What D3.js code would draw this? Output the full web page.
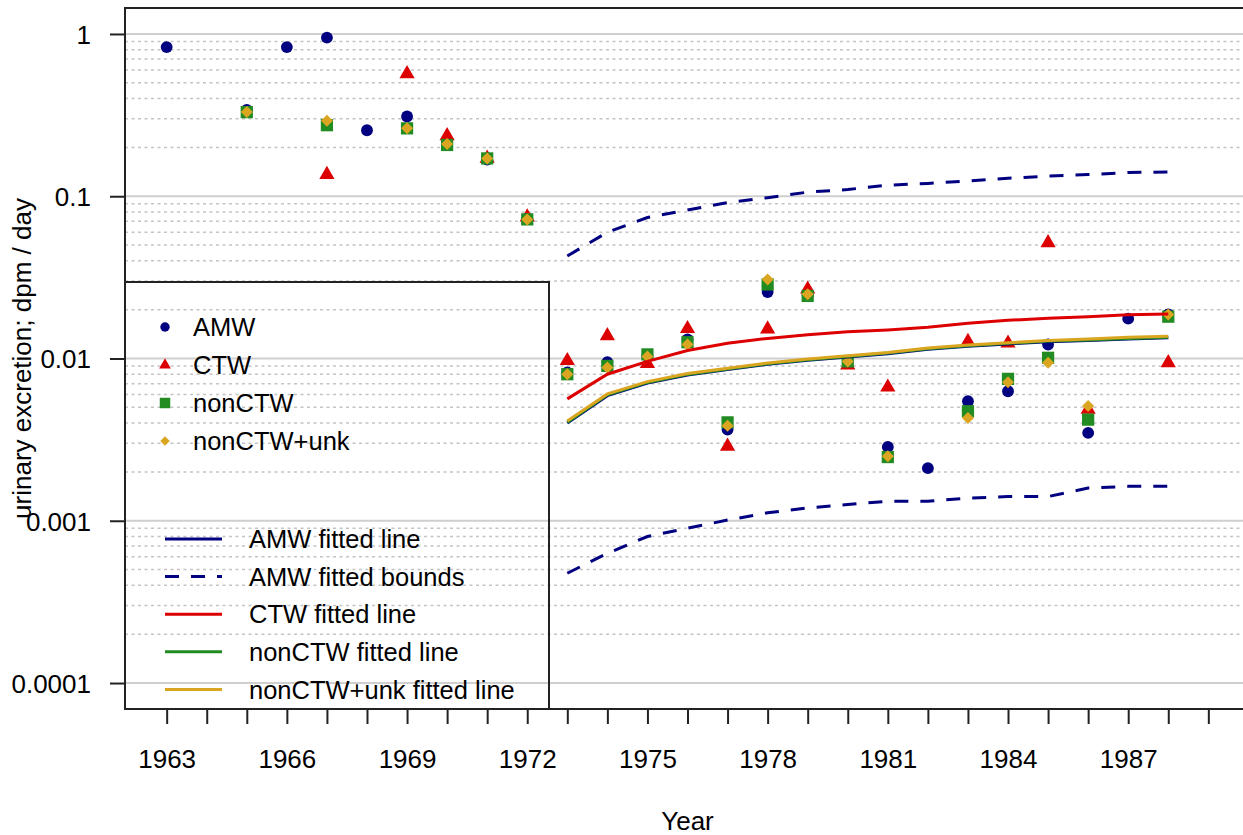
<!DOCTYPE html>
<html>
<head>
<meta charset="utf-8">
<script src="https://cdn.jsdelivr.net/npm/d3@7"></script>
<style>
  body { margin: 0; background: #fff; }
  svg { display: block; font-family: "Liberation Sans", Arial, sans-serif; }
</style>
</head>
<body>
<div id="chart"></div>
<script>
var width = 1243,
    height = 835;

// observed points, one value per year (null = no measurement)
var years = d3.range(1963, 1989);
var amw    = [0.83, null, 0.34, 0.83, 0.95, 0.255, 0.31, 0.21, 0.168, 0.073, 0.0082, 0.0095, 0.0104, 0.0131, 0.00365, 0.0257, 0.0245, 0.0095, 0.00285, 0.00211, 0.00545, 0.00628, 0.0122, 0.00348, 0.0176, 0.0187];
var ctw    = [null, null, null, null, 0.139, null, 0.58, 0.241, 0.175, 0.076, 0.0099, 0.0141, 0.0095, 0.0156, 0.00294, 0.0155, 0.0273, 0.0093, 0.0068, null, 0.0130, 0.0127, 0.0527, 0.00496, null, 0.0096];
var nonctw = [null, null, 0.33, null, 0.274, null, 0.262, 0.207, 0.171, 0.072, 0.0080, 0.0090, 0.0106, 0.0126, 0.00404, 0.0286, 0.0243, 0.0096, 0.00247, null, 0.00473, 0.00749, 0.0101, 0.0042, null, 0.0181];
var nonunk = [null, null, 0.33, null, 0.292, null, 0.262, 0.21, 0.171, 0.072, 0.0080, 0.0088, 0.0103, 0.0122, 0.00385, 0.0307, 0.0249, 0.0096, 0.0025, null, 0.0043, 0.00714, 0.0094, 0.0051, null, 0.0187];

// fitted curves
var fitYears  = d3.range(1973, 1989);
var amwFit    = [0.00400, 0.00590, 0.00705, 0.00790, 0.00855, 0.00920, 0.00975, 0.0102, 0.0107, 0.0114, 0.0119, 0.0123, 0.0127, 0.0129, 0.0132, 0.0134];
var amwUpper  = [0.0428, 0.060, 0.0739, 0.0823, 0.0914, 0.098, 0.106, 0.110, 0.117, 0.120, 0.124, 0.129, 0.133, 0.136, 0.140, 0.141];
var amwLower  = [0.000475, 0.00063, 0.0008, 0.0009, 0.00101, 0.00112, 0.0012, 0.00126, 0.00132, 0.00132, 0.00138, 0.00141, 0.00141, 0.00159, 0.00163, 0.00163];
var ctwFit    = [0.00564, 0.0080, 0.0096, 0.0112, 0.0124, 0.0133, 0.0140, 0.0146, 0.0150, 0.0156, 0.0165, 0.0172, 0.0177, 0.0181, 0.0186, 0.0188];
var nonctwFit = [0.00405, 0.00598, 0.00712, 0.00798, 0.00862, 0.00928, 0.00983, 0.0103, 0.0108, 0.0115, 0.0120, 0.0124, 0.0128, 0.0130, 0.0133, 0.0135];
var nonunkFit = [0.00412, 0.00605, 0.00720, 0.00808, 0.00872, 0.00938, 0.00993, 0.0104, 0.0109, 0.0116, 0.0121, 0.0125, 0.0129, 0.0132, 0.0135, 0.0137];

var xTicks = d3.range(1963, 1990);
var xLabels = [1963, 1966, 1969, 1972, 1975, 1978, 1981, 1984, 1987];
var yMajor = [1, 0.1, 0.01, 0.001, 0.0001];
var yLabels = ["1", "0.1", "0.01", "0.001", "0.0001"];

var navy = "#000080", red = "#dd0000", green = "#228b22", gold = "#daa520";

var pL = 125, pR = 1250, pT = 8, pB = 709;

var x = d3.scaleLinear().domain([1961.96, 1990.04]).range([pL, pR]);
var y = d3.scaleLog().domain([Math.pow(10, -4.16), Math.pow(10, 0.16)]).range([pB, pT]);

// filled diamond like R's pch 18 (equal width and height)
var rDiamond = {
  draw: function(ctx, size) {
    var r = Math.sqrt(size / 2);
    ctx.moveTo(0, -r);
    ctx.lineTo(r, 0);
    ctx.lineTo(0, r);
    ctx.lineTo(-r, 0);
    ctx.closePath();
  }
};

var svg = d3.select("#chart").append("svg")
    .attr("width", width)
    .attr("height", height);

// grid
var minor = [];
yMajor.forEach(function(d) {
  d3.range(2, 10).forEach(function(k) { if (d * k < 1.4) minor.push(d * k); });
});
svg.append("g").selectAll("line").data(minor).enter().append("line")
    .attr("x1", pL).attr("x2", pR)
    .attr("y1", function(d) { return y(d); }).attr("y2", function(d) { return y(d); })
    .attr("stroke", "#c4c4c4").attr("stroke-width", 1.5)
    .attr("stroke-dasharray", "3,3.5");
svg.append("g").selectAll("line").data(yMajor).enter().append("line")
    .attr("x1", pL).attr("x2", pR)
    .attr("y1", function(d) { return y(d); }).attr("y2", function(d) { return y(d); })
    .attr("stroke", "#cfcfcf").attr("stroke-width", 2);

// points
var shapes = [
  { vals: amw,    color: navy,  sym: d3.symbolCircle,   size: 110, lsize: 70 },
  { vals: ctw,    color: red,   sym: d3.symbolTriangle, size: 100, lsize: 60 },
  { vals: nonctw, color: green, sym: d3.symbolSquare,   size: 150, lsize: 110 },
  { vals: nonunk, color: gold,  sym: rDiamond,          size: 72,  lsize: 45 }
];
shapes.forEach(function(s) {
  var pts = years.map(function(yr, i) { return { year: yr, v: s.vals[i] }; })
      .filter(function(d) { return d.v != null; });
  svg.append("g").selectAll("path").data(pts).enter().append("path")
      .attr("d", d3.symbol().type(s.sym).size(s.size))
      .attr("transform", function(d) {
        var dy = s.sym === d3.symbolTriangle ? 1.5 : 0;
        return "translate(" + x(d.year) + "," + (y(d.v) + dy) + ")";
      })
      .attr("fill", s.color);
});

// fitted lines
var line = d3.line()
    .x(function(d) { return x(d[0]); })
    .y(function(d) { return y(d[1]); });
var fits = [
  { vals: amwUpper,  color: navy,  dash: "14,12" },
  { vals: amwLower,  color: navy,  dash: "14,12" },
  { vals: amwFit,    color: navy,  dash: null },
  { vals: ctwFit,    color: red,   dash: null },
  { vals: nonctwFit, color: green, dash: null },
  { vals: nonunkFit, color: gold,  dash: null }
];
fits.forEach(function(f) {
  svg.append("path")
      .datum(fitYears.map(function(yr, i) { return [yr, f.vals[i]]; }))
      .attr("d", line)
      .attr("fill", "none")
      .attr("stroke", f.color)
      .attr("stroke-width", 3)
      .attr("stroke-dasharray", f.dash);
});

// box
svg.append("rect")
    .attr("x", pL).attr("y", pT)
    .attr("width", pR - pL).attr("height", pB - pT)
    .attr("fill", "none").attr("stroke", "#222").attr("stroke-width", 2);

// x axis
var xAxis = d3.axisBottom(x)
    .tickValues(xTicks)
    .tickSize(15)
    .tickFormat(function(d) { return xLabels.indexOf(d) >= 0 ? d : ""; });
var gx = svg.append("g").attr("transform", "translate(0," + pB + ")").call(xAxis);
gx.select(".domain").remove();
gx.selectAll(".tick line").attr("stroke", "#222").attr("stroke-width", 2);
gx.selectAll(".tick text").attr("font-size", 26).attr("font-family", "Liberation Sans, Arial, sans-serif")
    .attr("fill", "#000").attr("dy", 0).attr("y", 59);

// y axis
var yAxis = d3.axisLeft(y)
    .tickValues(yMajor)
    .tickSize(15)
    .tickFormat(function(d, i) { return yLabels[i]; });
var gy = svg.append("g").attr("transform", "translate(" + pL + ",0)").call(yAxis);
gy.select(".domain").remove();
gy.selectAll(".tick line").attr("stroke", "#222").attr("stroke-width", 2);
gy.selectAll(".tick text").attr("font-size", 26).attr("font-family", "Liberation Sans, Arial, sans-serif")
    .attr("fill", "#000").attr("x", -34).attr("dy", "0.36em");

// axis titles
svg.append("text")
    .attr("x", (pL + pR) / 2).attr("y", 830)
    .attr("text-anchor", "middle").attr("font-size", 26)
    .text("Year");
svg.append("text")
    .attr("transform", "translate(31," + (pT + pB) / 2 + ") rotate(-90)")
    .attr("text-anchor", "middle").attr("font-size", 26)
    .text("urinary excretion; dpm / day");

// legend
var lg = svg.append("g");
lg.append("rect")
    .attr("x", pL).attr("y", 282)
    .attr("width", 424).attr("height", pB - 282)
    .attr("fill", "none").attr("stroke", "#222").attr("stroke-width", 2);

var ptLegend = ["AMW", "CTW", "nonCTW", "nonCTW+unk"];
ptLegend.forEach(function(name, i) {
  var s = shapes[i];
  var yy = 327 + i * 38;
  lg.append("path")
      .attr("d", d3.symbol().type(s.sym).size(s.lsize))
      .attr("transform", "translate(165," + yy + ")")
      .attr("fill", s.color);
  lg.append("text")
      .attr("x", 193).attr("y", yy).attr("dy", "0.36em")
      .attr("font-size", 25.5).text(name);
});

var lineLegend = ["AMW fitted line", "AMW fitted bounds", "CTW fitted line", "nonCTW fitted line", "nonCTW+unk fitted line"];
var lineColors = [navy, navy, red, green, gold];
lineLegend.forEach(function(name, i) {
  var yy = 539 + i * 37.6;
  lg.append("line")
      .attr("x1", 165).attr("x2", 222).attr("y1", yy).attr("y2", yy)
      .attr("stroke", lineColors[i]).attr("stroke-width", 3)
      .attr("stroke-dasharray", i === 1 ? "14,12" : null);
  lg.append("text")
      .attr("x", 249).attr("y", yy).attr("dy", "0.36em")
      .attr("font-size", 25.5).text(name);
});
</script>
</body>
</html>
